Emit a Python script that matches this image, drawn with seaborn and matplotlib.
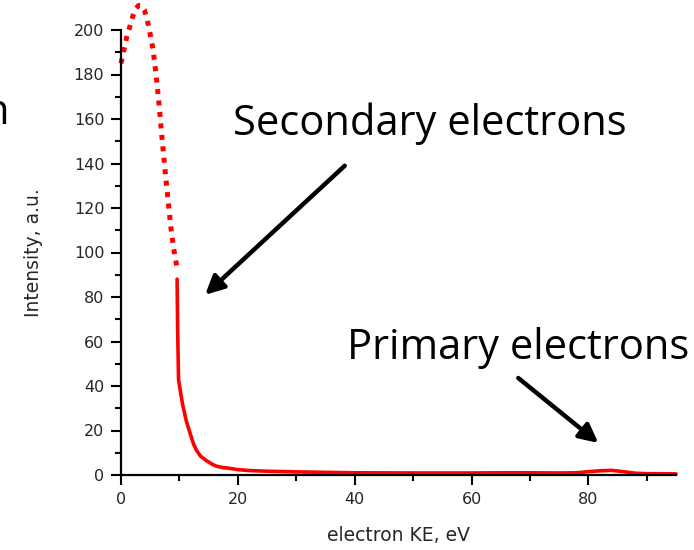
import matplotlib
matplotlib.use("Agg")
import matplotlib.pyplot as plt
import seaborn as sns
import numpy as np

# ---- data ----
peak_x = [0, 0.5, 1, 1.5, 2, 2.5, 3, 3.5, 4, 4.5, 5, 5.5, 6, 6.5, 7, 7.5, 8, 8.5, 9, 9.6]
peak_y = [185, 191, 197, 201.5, 206, 209.5, 211, 211, 209, 204.5, 198, 191, 180, 167, 152, 138, 125, 112, 102, 93]

tail_x = [9.6, 9.7, 9.85, 10.2, 10.6, 11.2, 11.8, 12.4, 12.9, 13.6, 14.6, 15.5, 16.3, 17.5, 18.6, 20,
          22, 25, 30, 35, 40, 50, 60, 65, 70, 75, 78, 80, 82, 84, 86, 88, 90, 95]
tail_y = [88, 65, 43, 37, 31, 24, 19, 14, 11.2, 8.5, 6.5, 5, 4, 3.3, 3.0, 2.4,
          2.0, 1.7, 1.4, 1.2, 1.0, 0.9, 0.9, 1.0, 1.0, 0.9, 1.0, 1.5, 1.9, 2.1, 1.5, 0.8, 0.6, 0.5]

x_ticks = [0, 20, 40, 60, 80]
y_ticks = [0, 20, 40, 60, 80, 100, 120, 140, 160, 180, 200]

sns.set_style("ticks")
plt.rcParams['font.family'] = ['DejaVu Sans']

fig = plt.figure(figsize=(6.94, 5.5), dpi=100)
ax = fig.add_axes([121/694, 75/550, (676-121)/694, (475-30)/550])

sns.lineplot(x=peak_x, y=peak_y, ax=ax, color='red', lw=3.6,
             linestyle=(0, (1.0, 1.3)), clip_on=False, sort=False)
sns.lineplot(x=tail_x, y=tail_y, ax=ax, color='red', lw=2.6,
             clip_on=False, sort=False)

ax.set_xlim(0, 95)
ax.set_ylim(0, 200)
ax.set_xticks(x_ticks)
ax.set_yticks(y_ticks)
ax.set_xticks(np.arange(10, 95, 20), minor=True)
ax.set_yticks(np.arange(10, 200, 20), minor=True)
ax.tick_params(axis='both', which='major', length=7, width=1.5, labelsize=11.5,
               direction='out', color='black', pad=5)
ax.tick_params(axis='both', which='minor', length=4, width=1.5, direction='out', color='black')
sns.despine(ax=ax)
for s in ['left', 'bottom']:
    ax.spines[s].set_linewidth(1.6)
    ax.spines[s].set_color('black')

ax.set_xlabel("electron KE, eV", fontsize=13.5, labelpad=14)
ax.set_ylabel("Intensity, a.u.", fontsize=13.5, labelpad=22)

big = dict(fontsize=30, family=['Open Sans', 'DejaVu Sans'], color='black')
ax.text(19.1, 158, "Secondary electrons", ha='left', va='center', clip_on=False, **big)
ax.text(38.6, 57, "Primary electrons", ha='left', va='center', clip_on=False, **big)
fig.text(9/694, 1 - 113/550, "n", ha='right', va='center', **big)

arrow = dict(arrowstyle='-|>', lw=3.2, color='black', mutation_scale=28, shrinkA=0, shrinkB=0)
ax.annotate("", xy=(14.4, 81), xytext=(38.3, 139), arrowprops=arrow, annotation_clip=False)
ax.annotate("", xy=(81.7, 14.4), xytext=(68, 43.6), arrowprops=arrow, annotation_clip=False)

fig.savefig("out.png", dpi=100)
